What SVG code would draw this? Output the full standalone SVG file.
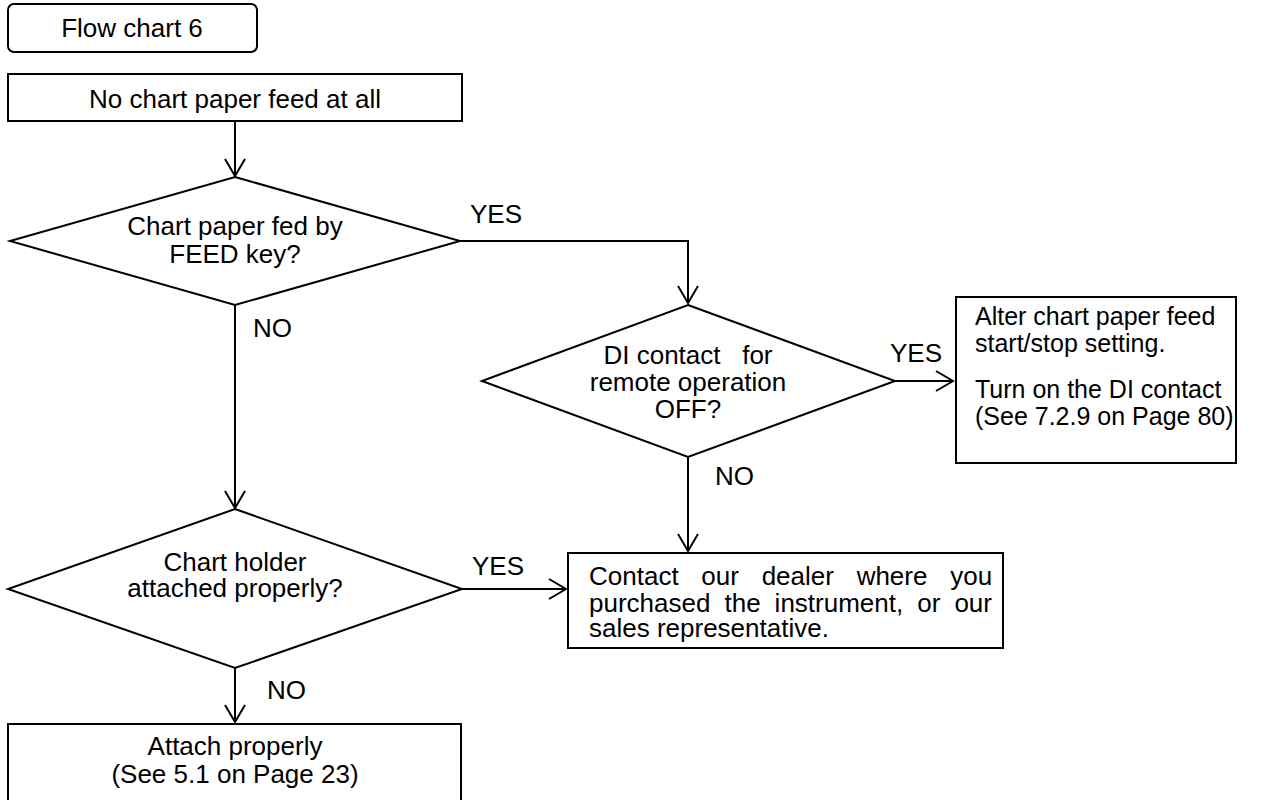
<svg xmlns="http://www.w3.org/2000/svg" width="1277" height="800" viewBox="0 0 1277 800">
  <style>
    .shape { fill: #ffffff; stroke: #000000; stroke-width: 2; }
    .txt { font-family: "Liberation Sans", Arial, sans-serif; font-size: 26px; fill: #000000; }
    .sm { font-size: 25px; }
    .mid { text-anchor: middle; }
    .conn { fill: none; stroke: #000000; stroke-width: 2; }
  </style>
  <defs>
    <marker id="arrow" markerUnits="userSpaceOnUse" viewBox="-20 -12 22 24" refX="0" refY="0" markerWidth="22" markerHeight="24" orient="auto">
      <path d="M -17 -10 L 0 0 L -17 10" fill="none" stroke="#000000" stroke-width="2"/>
    </marker>
  </defs>
  <rect width="1277" height="800" fill="#ffffff"/>

  <g id="title">
    <rect class="shape" x="8" y="4" width="249" height="48" rx="6" ry="6"/>
    <text class="txt mid" x="132" y="37">Flow chart 6</text>
  </g>

  <g id="start">
    <rect class="shape" x="8" y="74" width="454" height="47"/>
    <text class="txt mid" x="235" y="108">No chart paper feed at all</text>
  </g>

  <g id="decision1">
    <polygon class="shape" points="235,177 460,241 235,305 10,241"/>
    <text class="txt mid" x="235" y="235">Chart paper fed by</text>
    <text class="txt mid" x="235" y="263">FEED key?</text>
  </g>

  <g id="decision2">
    <polygon class="shape" points="688,305 895,381 688,457 482,381"/>
    <text class="txt mid" x="688" y="364" xml:space="preserve">DI contact   for</text>
    <text class="txt mid" x="688" y="391">remote operation</text>
    <text class="txt mid" x="688" y="418">OFF?</text>
  </g>

  <g id="alter">
    <rect class="shape" x="956" y="297" width="280" height="166"/>
    <text class="txt sm" x="975" y="325">Alter chart paper feed</text>
    <text class="txt sm" x="975" y="352">start/stop setting.</text>
    <text class="txt sm" x="975" y="398">Turn on the DI contact</text>
    <text class="txt sm" x="975" y="425">(See 7.2.9 on Page 80)</text>
  </g>

  <g id="decision3">
    <polygon class="shape" points="235,509 462,589 235,668 8,589"/>
    <text class="txt mid" x="235" y="571">Chart holder</text>
    <text class="txt mid" x="235" y="597">attached properly?</text>
  </g>

  <g id="contact">
    <rect class="shape" x="568" y="553" width="435" height="95"/>
    <text class="txt" x="589" y="585" word-spacing="15.5">Contact our dealer where you</text>
    <text class="txt" x="589" y="612" word-spacing="6.8">purchased the instrument, or our</text>
    <text class="txt" x="589" y="637">sales representative.</text>
  </g>

  <g id="attach">
    <rect class="shape" x="8" y="724" width="453" height="90"/>
    <text class="txt mid" x="235" y="755">Attach properly</text>
    <text class="txt mid" x="235" y="783">(See 5.1 on Page 23)</text>
  </g>

  <g id="connectors">
    <line class="conn" x1="235" y1="121" x2="235" y2="176" marker-end="url(#arrow)"/>
    <polyline class="conn" points="460,241 688,241 688,303" marker-end="url(#arrow)"/>
    <line class="conn" x1="235" y1="305" x2="235" y2="508" marker-end="url(#arrow)"/>
    <line class="conn" x1="895" y1="381" x2="953" y2="381" marker-end="url(#arrow)"/>
    <line class="conn" x1="688" y1="457" x2="688" y2="551" marker-end="url(#arrow)"/>
    <line class="conn" x1="462" y1="589" x2="566" y2="589" marker-end="url(#arrow)"/>
    <line class="conn" x1="235" y1="668" x2="235" y2="722" marker-end="url(#arrow)"/>
    <text class="txt" x="470" y="223">YES</text>
    <text class="txt" x="253" y="337">NO</text>
    <text class="txt" x="890" y="362">YES</text>
    <text class="txt" x="715" y="485">NO</text>
    <text class="txt" x="472" y="575">YES</text>
    <text class="txt" x="267" y="699">NO</text>
  </g>
</svg>
